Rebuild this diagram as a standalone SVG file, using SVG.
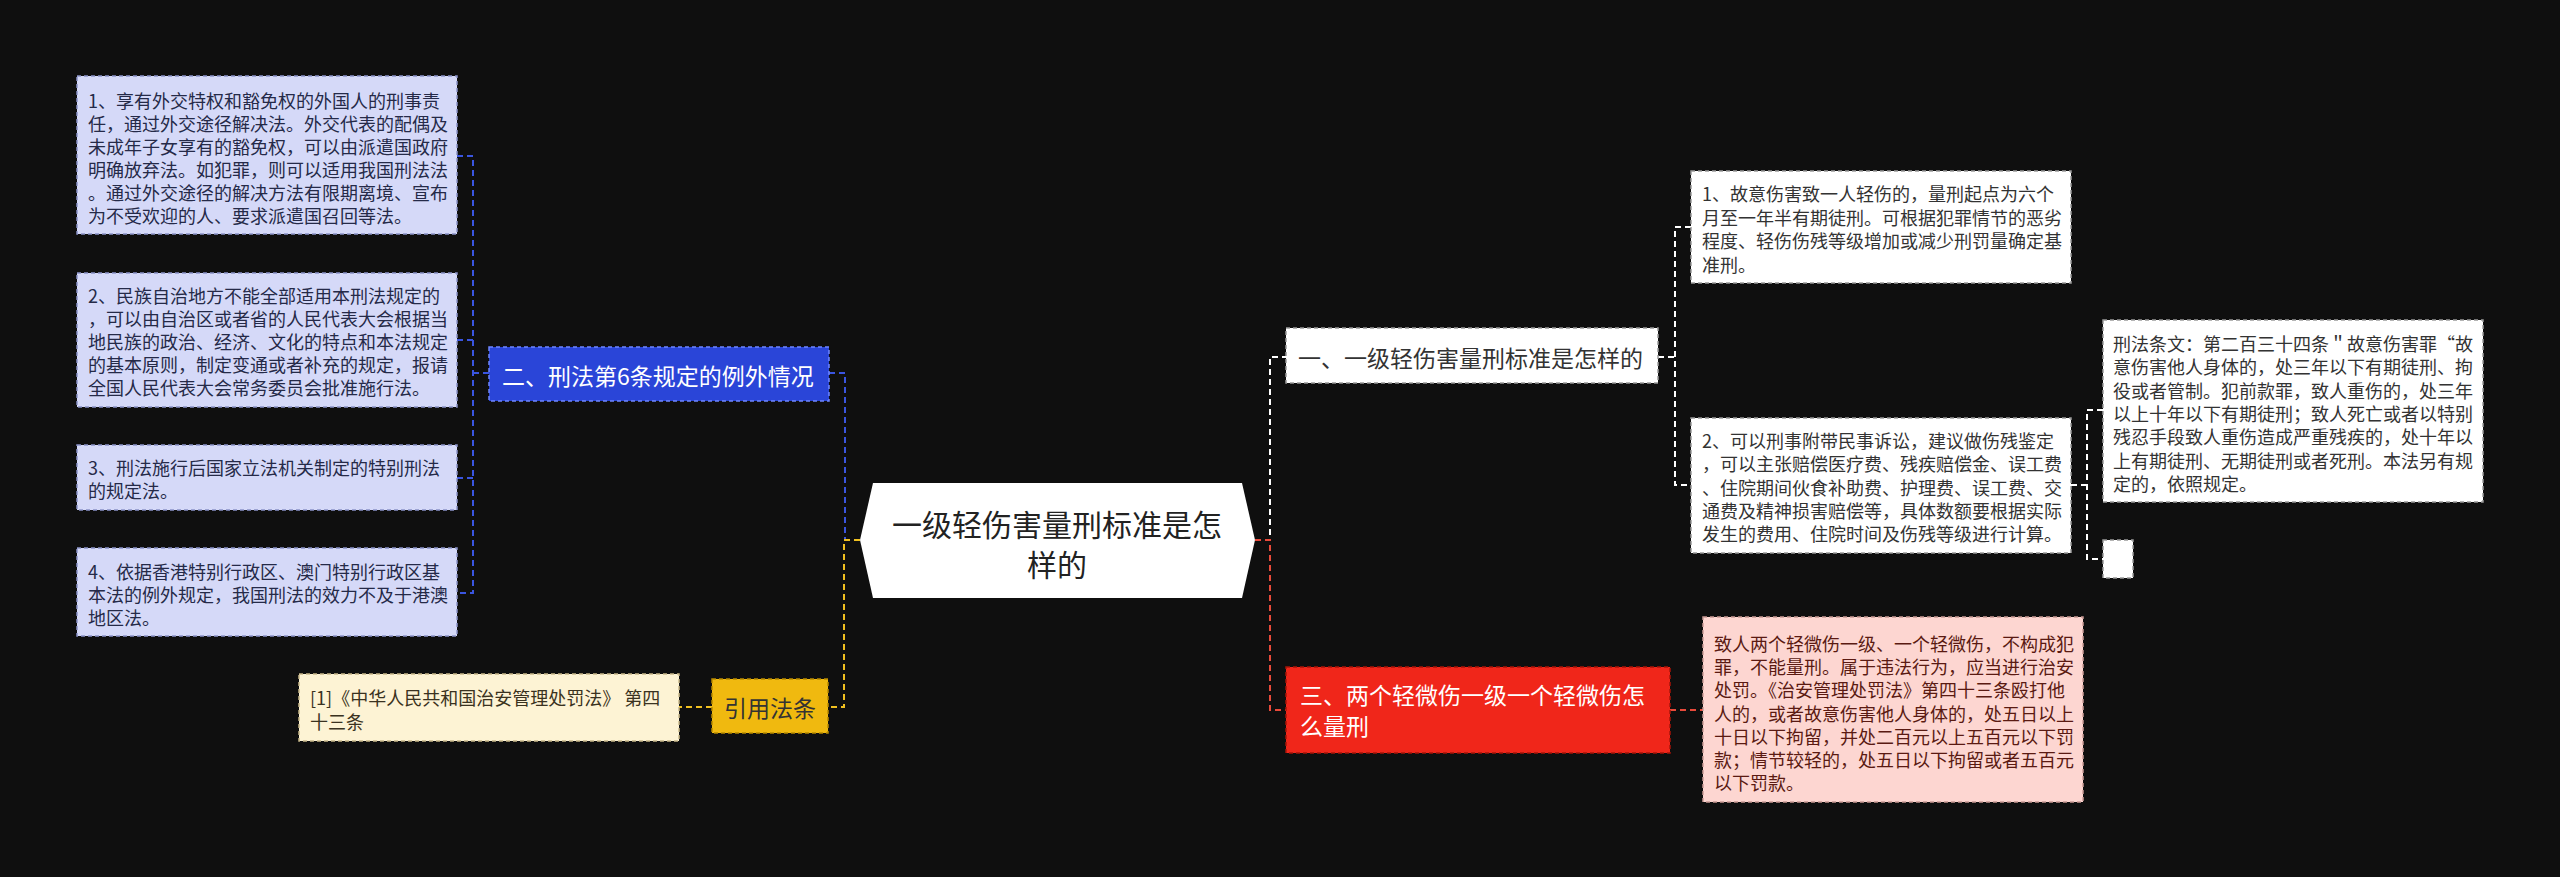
<svg xmlns="http://www.w3.org/2000/svg" width="2560" height="877" viewBox="0 0 2560 877">
<style>
text{font-family:"Noto Sans CJK SC","Noto Sans",sans-serif;dominant-baseline:central}
.s{font-size:18px}
.m{font-size:23px}
.lav{fill:#d5d9f8;stroke:#8a92c8;stroke-width:1.5;stroke-dasharray:4 3}
.lavt{fill:#252a48}
.wb{fill:#ffffff;stroke:#9a9a9a;stroke-width:1.5;stroke-dasharray:4 3}
.wt{fill:#333333}
.pk{fill:#fdd6d1;stroke:#c99a95;stroke-width:1.5;stroke-dasharray:4 3}
.pkt{fill:#5a1a12}
.bg{fill:#fdf3d4;stroke:#c9b98a;stroke-width:1.5;stroke-dasharray:4 3}
.bgt{fill:#3a3220}
.c{fill:none;stroke-width:2;stroke-dasharray:6 4}
</style>
<rect x="0" y="0" width="2560" height="877" fill="#0f0f0f"/>
<g id="connectors">
  <path class="c" stroke="#3a55e0" d="M829,373 H845 V540"/>
  <path class="c" stroke="#3a55e0" d="M489,373 H473 M457,156 H473 V593 H457 M457,340 H473 M457,478 H473"/>
  <path class="c" stroke="#f0c020" d="M860,540 H844 V707 H828"/>
  <path class="c" stroke="#f0c020" d="M712,707 H679"/>
  <path class="c" stroke="#ffffff" d="M1255,540 H1270 V357 H1286"/>
  <path class="c" stroke="#ffffff" d="M1658,357 H1675 M1691,227 H1675 V485 H1691"/>
  <path class="c" stroke="#ffffff" d="M2071,485 H2087 M2103,410 H2087 V559 H2103"/>
  <path class="c" stroke="#e84a3a" d="M1255,540 H1270 V710 H1286"/>
  <path class="c" stroke="#e84a3a" d="M1670,710 H1703"/>
</g>
<g id="root">
  <polygon points="860,540 873,483 1242,483 1255,540 1242,598 873,598" fill="#ffffff"/>
  <text x="1057" y="523" text-anchor="middle" font-size="30" fill="#222222">一级轻伤害量刑标准是怎</text>
  <text x="1057" y="563" text-anchor="middle" font-size="30" fill="#222222">样的</text>
</g>
<g id="n-blue">
  <rect x="489" y="347" width="340" height="54" fill="#2a45d8" stroke="#6f86ff" stroke-width="1.5" stroke-dasharray="4 3"/>
  <text x="502" y="375" class="m" fill="#ffffff">二、刑法第6条规定的例外情况</text>
</g>
<g id="n-b1">
  <rect x="77" y="76" width="380" height="158" class="lav"/>
  <text class="s lavt" x="88" y="100">1、享有外交特权和豁免权的外国人的刑事责</text>
  <text class="s lavt" x="88" y="123">任，通过外交途径解决法。外交代表的配偶及</text>
  <text class="s lavt" x="88" y="146">未成年子女享有的豁免权，可以由派遣国政府</text>
  <text class="s lavt" x="88" y="169">明确放弃法。如犯罪，则可以适用我国刑法法</text>
  <text class="s lavt" x="88" y="192">。通过外交途径的解决方法有限期离境、宣布</text>
  <text class="s lavt" x="88" y="215">为不受欢迎的人、要求派遣国召回等法。</text>
</g>
<g id="n-b2">
  <rect x="77" y="273" width="380" height="134" class="lav"/>
  <text class="s lavt" x="88" y="295">2、民族自治地方不能全部适用本刑法规定的</text>
  <text class="s lavt" x="88" y="318">，可以由自治区或者省的人民代表大会根据当</text>
  <text class="s lavt" x="88" y="341">地民族的政治、经济、文化的特点和本法规定</text>
  <text class="s lavt" x="88" y="364">的基本原则，制定变通或者补充的规定，报请</text>
  <text class="s lavt" x="88" y="387">全国人民代表大会常务委员会批准施行法。</text>
</g>
<g id="n-b3">
  <rect x="77" y="445" width="380" height="65" class="lav"/>
  <text class="s lavt" x="88" y="467">3、刑法施行后国家立法机关制定的特别刑法</text>
  <text class="s lavt" x="88" y="490">的规定法。</text>
</g>
<g id="n-b4">
  <rect x="77" y="548" width="380" height="88" class="lav"/>
  <text class="s lavt" x="88" y="571">4、依据香港特别行政区、澳门特别行政区基</text>
  <text class="s lavt" x="88" y="594">本法的例外规定，我国刑法的效力不及于港澳</text>
  <text class="s lavt" x="88" y="617">地区法。</text>
</g>
<g id="n-yellow">
  <rect x="712" y="679" width="116" height="54" fill="#f0b90f" stroke="#b88a00" stroke-width="1.5" stroke-dasharray="4 3"/>
  <text x="770" y="707" text-anchor="middle" class="m" fill="#333333">引用法条</text>
</g>
<g id="n-ref">
  <rect x="299" y="674" width="380" height="67" class="bg"/>
  <text class="s bgt" x="310" y="697">[1]《中华人民共和国治安管理处罚法》 第四</text>
  <text class="s bgt" x="310" y="721">十三条</text>
</g>
<g id="n-w1">
  <rect x="1286" y="328" width="372" height="55" class="wb"/>
  <text x="1298" y="357" class="m" fill="#333333">一、一级轻伤害量刑标准是怎样的</text>
</g>
<g id="n-w1a">
  <rect x="1691" y="171" width="380" height="112" class="wb"/>
  <text class="s wt" x="1702" y="193">1、故意伤害致一人轻伤的，量刑起点为六个</text>
  <text class="s wt" x="1702" y="217">月至一年半有期徒刑。可根据犯罪情节的恶劣</text>
  <text class="s wt" x="1702" y="240">程度、轻伤伤残等级增加或减少刑罚量确定基</text>
  <text class="s wt" x="1702" y="264">准刑。</text>
</g>
<g id="n-w1b">
  <rect x="1691" y="418" width="380" height="135" class="wb"/>
  <text class="s wt" x="1702" y="440">2、可以刑事附带民事诉讼，建议做伤残鉴定</text>
  <text class="s wt" x="1702" y="463">，可以主张赔偿医疗费、残疾赔偿金、误工费</text>
  <text class="s wt" x="1702" y="487">、住院期间伙食补助费、护理费、误工费、交</text>
  <text class="s wt" x="1702" y="510">通费及精神损害赔偿等，具体数额要根据实际</text>
  <text class="s wt" x="1702" y="533">发生的费用、住院时间及伤残等级进行计算。</text>
</g>
<g id="n-law">
  <rect x="2103" y="320" width="380" height="182" class="wb"/>
  <text class="s wt" x="2113" y="343">刑法条文：第二百三十四条＂故意伤害罪“故</text>
  <text class="s wt" x="2113" y="366">意伤害他人身体的，处三年以下有期徒刑、拘</text>
  <text class="s wt" x="2113" y="390">役或者管制。犯前款罪，致人重伤的，处三年</text>
  <text class="s wt" x="2113" y="413">以上十年以下有期徒刑；致人死亡或者以特别</text>
  <text class="s wt" x="2113" y="436">残忍手段致人重伤造成严重残疾的，处十年以</text>
  <text class="s wt" x="2113" y="460">上有期徒刑、无期徒刑或者死刑。本法另有规</text>
  <text class="s wt" x="2113" y="483">定的，依照规定。</text>
</g>
<g id="n-empty">
  <rect x="2103" y="540" width="30" height="38" class="wb"/>
</g>
<g id="n-red">
  <rect x="1286" y="667" width="384" height="86" fill="#f0261a" stroke="#a81408" stroke-width="1.5" stroke-dasharray="4 3"/>
  <text x="1300" y="694" class="m" fill="#ffffff">三、两个轻微伤一级一个轻微伤怎</text>
  <text x="1300" y="725" class="m" fill="#ffffff">么量刑</text>
</g>
<g id="n-pink">
  <rect x="1703" y="617" width="380" height="185" class="pk"/>
  <text class="s pkt" x="1714" y="643">致人两个轻微伤一级、一个轻微伤，不构成犯</text>
  <text class="s pkt" x="1714" y="666">罪，不能量刑。属于违法行为，应当进行治安</text>
  <text class="s pkt" x="1714" y="689">处罚。《治安管理处罚法》第四十三条殴打他</text>
  <text class="s pkt" x="1714" y="713">人的，或者故意伤害他人身体的，处五日以上</text>
  <text class="s pkt" x="1714" y="736">十日以下拘留，并处二百元以上五百元以下罚</text>
  <text class="s pkt" x="1714" y="759">款；情节较轻的，处五日以下拘留或者五百元</text>
  <text class="s pkt" x="1714" y="782">以下罚款。</text>
</g>
</svg>
